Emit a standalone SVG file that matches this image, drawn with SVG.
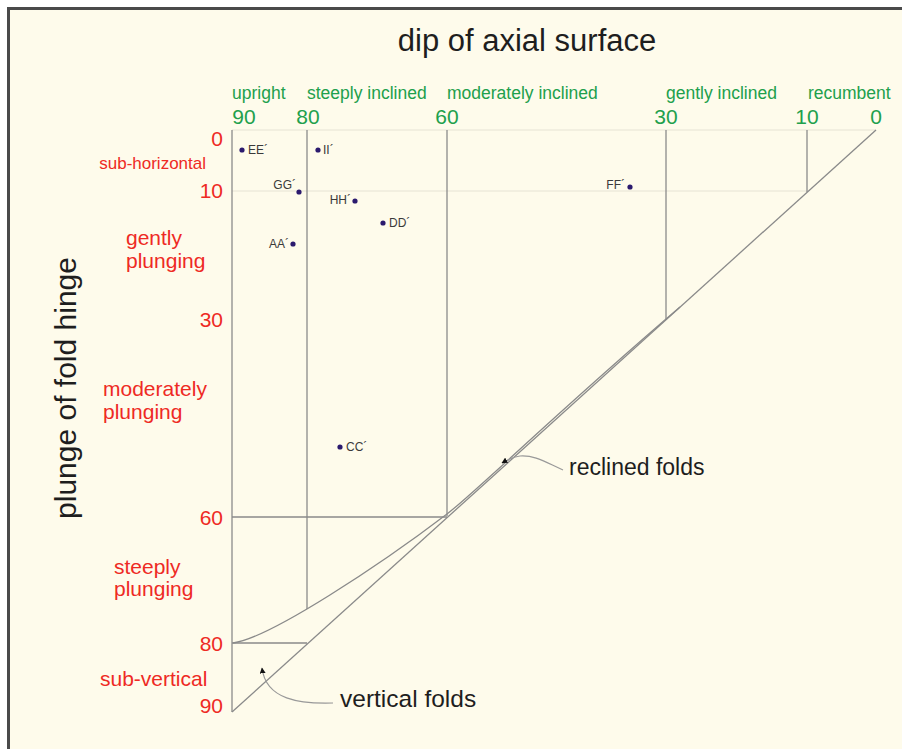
<svg xmlns="http://www.w3.org/2000/svg" width="902" height="749" viewBox="0 0 902 749">
<defs>
<style>
text{font-family:"Liberation Sans",Arial,sans-serif}
.g{fill:#21a04c;font-size:17.5px}
.gn{fill:#21a04c;font-size:21px}
.r{fill:#ee2a24;font-size:21px}
.rn{fill:#ee2a24;font-size:21px}
.lbl{fill:#3a3a3a;font-size:12px}
.dot{fill:#2b1a6e}
.ax{stroke:#8a8a8a;stroke-width:1.3;fill:none}
.fa{stroke:#e6e3d4;stroke-width:1;fill:none}
.ld{stroke:#999;stroke-width:1.2;fill:none}
</style>
<marker id="ah" viewBox="0 0 10 10" refX="9" refY="5" markerWidth="5" markerHeight="5" orient="auto"><path d="M0,0L10,5L0,10z" fill="#111"/></marker>
</defs>
<rect x="0" y="0" width="902" height="749" fill="#fff"/>
<rect x="8.5" y="8.5" width="920" height="760" fill="#fefbeb" stroke="#4a4a4a" stroke-width="3"/>

<text x="527" y="51" text-anchor="middle" style="font-size:31px;fill:#1e1e1e">dip of axial surface</text>
<text x="388" y="76" text-anchor="middle" transform="rotate(-90 0 0) translate(-776 0)" style="font-size:30px;fill:#1e1e1e">plunge of fold hinge</text>

<g id="top-labels">
<text class="g" x="232" y="99">upright</text>
<text class="g" x="307" y="99">steeply inclined</text>
<text class="g" x="447" y="99">moderately inclined</text>
<text class="g" x="666" y="99">gently inclined</text>
<text class="g" x="808" y="99">recumbent</text>
<text class="gn" x="244" y="124" text-anchor="middle">90</text>
<text class="gn" x="308" y="124" text-anchor="middle">80</text>
<text class="gn" x="447" y="124" text-anchor="middle">60</text>
<text class="gn" x="666" y="124" text-anchor="middle">30</text>
<text class="gn" x="807" y="124" text-anchor="middle">10</text>
<text class="gn" x="876" y="124" text-anchor="middle">0</text>
</g>

<g id="left-labels">
<text class="rn" x="223" y="146" text-anchor="end">0</text>
<text class="rn" x="223" y="198" text-anchor="end">10</text>
<text class="rn" x="223" y="327" text-anchor="end">30</text>
<text class="rn" x="223" y="525" text-anchor="end">60</text>
<text class="rn" x="223" y="651" text-anchor="end">80</text>
<text class="rn" x="223" y="713" text-anchor="end">90</text>
<text class="r" x="206" y="169" text-anchor="end" style="font-size:17px">sub-horizontal</text>
<text class="r" x="126" y="245">gently</text>
<text class="r" x="126" y="268">plunging</text>
<text class="r" x="103" y="396">moderately</text>
<text class="r" x="103" y="419">plunging</text>
<text class="r" x="114" y="574">steeply</text>
<text class="r" x="114" y="596">plunging</text>
<text class="r" x="100" y="686">sub-vertical</text>
</g>

<g id="grid">
<line class="fa" x1="232" y1="130" x2="876" y2="130"/>
<line class="fa" x1="232" y1="191" x2="808" y2="191"/>
<line class="ax" x1="232" y1="130" x2="232" y2="712"/>
<line class="ax" x1="307" y1="130" x2="307" y2="609"/>
<line class="ax" x1="447" y1="130" x2="447" y2="516"/>
<line class="ax" x1="666" y1="130" x2="666" y2="320"/>
<line class="ax" x1="807" y1="130" x2="807" y2="192"/>
<line class="ax" x1="232" y1="517" x2="447" y2="517"/>
<line class="ax" x1="232" y1="643" x2="307" y2="643"/>
<line class="ax" x1="876" y1="130" x2="232" y2="712" stroke-width="1.1"/>
<path class="ax" stroke-width="1.1" d="M233,643 C270,638 380,565 447,514 C478,490 556,413 680,307"/>
</g>

<g id="connectors">
<path class="ld" d="M563,470 C545,462 535,455 520,456 C512,457 507,460 502,463" marker-end="url(#ah)"/>
<path class="ld" d="M333,703 C300,704 266,700 262,668" marker-end="url(#ah)"/>
</g>
<text x="569" y="475" style="font-size:23px;fill:#1e1e1e">reclined folds</text>
<text x="340" y="707" style="font-size:24.5px;fill:#1e1e1e">vertical folds</text>

<g id="EE"><circle class="dot" cx="242" cy="150" r="2.6"/><text class="lbl" x="248" y="154">EE´</text></g>
<g id="II"><circle class="dot" cx="318" cy="150" r="2.6"/><text class="lbl" x="323" y="154">II´</text></g>
<g id="GG"><circle class="dot" cx="299" cy="192" r="2.6"/><text class="lbl" x="296" y="189" text-anchor="end">GG´</text></g>
<g id="HH"><circle class="dot" cx="355" cy="201" r="2.6"/><text class="lbl" x="351" y="204" text-anchor="end">HH´</text></g>
<g id="DD"><circle class="dot" cx="383" cy="223" r="2.6"/><text class="lbl" x="389" y="227">DD´</text></g>
<g id="AA"><circle class="dot" cx="293" cy="244" r="2.6"/><text class="lbl" x="289" y="248" text-anchor="end">AA´</text></g>
<g id="CC"><circle class="dot" cx="340" cy="447" r="2.6"/><text class="lbl" x="346" y="451">CC´</text></g>
<g id="FF"><circle class="dot" cx="630" cy="187" r="2.6"/><text class="lbl" x="625" y="189" text-anchor="end">FF´</text></g>
</svg>
